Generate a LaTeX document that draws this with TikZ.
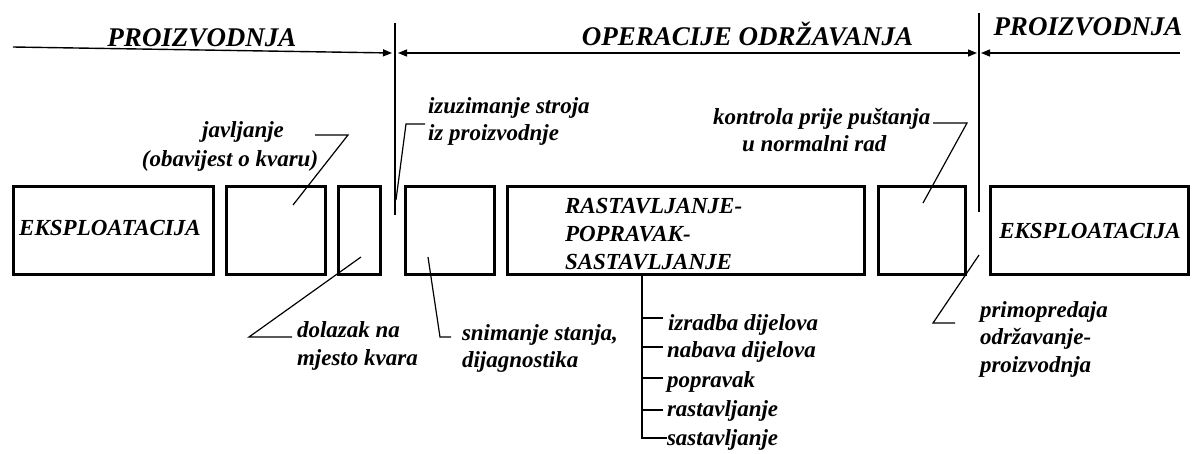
\documentclass[tikz,border=0pt]{standalone}
\usepackage{fontspec}
\setmainfont{Liberation Serif}
\usetikzlibrary{arrows.meta}
\begin{document}
\begin{tikzpicture}[x=1pt,y=-1pt,
  txt/.style={inner sep=0pt, outer sep=0pt, font=\fontsize{23}{28}\selectfont\bfseries\itshape},
  head/.style={inner sep=0pt, outer sep=0pt, font=\fontsize{27}{32}\selectfont\bfseries\itshape},
  box/.style={draw, line width=3pt, inner sep=0pt, outer sep=0pt, minimum height=88pt},
  lead/.style={line width=1.2pt},
  hline/.style={line width=1.4pt},
  tipr/.style={-{Triangle[length=9pt,width=7pt]}},
  tipl/.style={{Triangle[length=9pt,width=7pt]}-},
  tipb/.style={{Triangle[length=9pt,width=7pt]}-{Triangle[length=9pt,width=7pt]}}
]
\useasboundingbox (0,0) rectangle (1192,453);

% headings
\node[head, anchor=base] (h1) at (202,46) {PROIZVODNJA};
\node[head, anchor=base] (h2) at (747.5,45) {OPERACIJE ODRŽAVANJA};
\node[head, anchor=base] (h3) at (1088,35) {PROIZVODNJA};

% time lines
\coordinate (l1a) at (13,47);  \coordinate (l1b) at (392,53);
\coordinate (l2a) at (398,53); \coordinate (l2b) at (977,53);
\coordinate (l3a) at (981,53); \coordinate (l3b) at (1180,53);
\draw[hline,tipr] (l1a) -- (l1b);
\draw[hline,tipb] (l2a) -- (l2b);
\draw[hline,tipl] (l3a) -- (l3b);

% dividers
\coordinate (d1t) at (395,23);  \coordinate (d1b) at (395,215);
\coordinate (d2t) at (979,13);  \coordinate (d2b) at (979,212);
\draw[hline] (d1t) -- (d1b);
\draw[hline] (d2t) -- (d2b);

% boxes
\node[box, minimum width=200pt] (b1) at (113.5,230.5) {};
\node[box, minimum width=99pt]  (b2) at (276,230.5) {};
\node[box, minimum width=42pt]  (b3) at (359.5,230.5) {};
\node[box, minimum width=89pt]  (b4) at (450,230.5) {};
\node[box, minimum width=357pt] (b5) at (686,230.5) {};
\node[box, minimum width=87pt]  (b6) at (922,230.5) {};
\node[box, minimum width=198pt] (b7) at (1089.5,230.5) {};

\node[txt, anchor=base] (e1) at (110,235) {EKSPLOATACIJA};
\node[txt, anchor=base] (e7) at (1090,238) {EKSPLOATACIJA};
\node[txt, anchor=base west] (r1) at (565,213) {RASTAVLJANJE-};
\node[txt, anchor=base west] (r2) at (565,241) {POPRAVAK-};
\node[txt, anchor=base west] (r3) at (565,269) {SASTAVLJANJE};

% labels
\node[txt, anchor=base] (jav1) at (243,137) {javljanje};
\node[txt, anchor=base] (jav2) at (230,166) {(obavijest o kvaru)};
\node[txt, anchor=base west] (izu1) at (428,113) {izuzimanje stroja};
\node[txt, anchor=base west] (izu2) at (428,140) {iz proizvodnje};
\node[txt, anchor=base west] (kon1) at (713,124) {kontrola prije puštanja};
\node[txt, anchor=base west] (kon2) at (742,151) {u normalni rad};
\node[txt, anchor=base west] (dol1) at (297,337) {dolazak na};
\node[txt, anchor=base west] (dol2) at (297,365) {mjesto kvara};
\node[txt, anchor=base west] (sni1) at (462,340) {snimanje stanja,};
\node[txt, anchor=base west] (sni2) at (462,367) {dijagnostika};
\node[txt, anchor=base west] (pri1) at (980,317) {primopredaja};
\node[txt, anchor=base west] (pri2) at (980,344) {održavanje-};
\node[txt, anchor=base west] (pri3) at (980,372) {proizvodnja};
\node[txt, anchor=base west] (s1) at (668,330) {izradba dijelova};
\node[txt, anchor=base west] (s2) at (667,357) {nabava dijelova};
\node[txt, anchor=base west] (s3) at (667,387) {popravak};
\node[txt, anchor=base west] (s4) at (667,416) {rastavljanje};
\node[txt, anchor=base west] (s5) at (667,445) {sastavljanje};

% leaders
\coordinate (javA) at (315,135); \coordinate (javB) at (348,135); \coordinate (javC) at (293,205);
\draw[lead] (javA) -- (javB) -- (javC);
\coordinate (dolA) at (361,257); \coordinate (dolB) at (249,337); \coordinate (dolC) at (292,337);
\draw[lead] (dolA) -- (dolB) -- (dolC);
\coordinate (izuA) at (425,124); \coordinate (izuB) at (406,124); \coordinate (izuC) at (396,200);
\draw[lead] (izuA) -- (izuB) -- (izuC);
\coordinate (sniA) at (428,257); \coordinate (sniB) at (440,337); \coordinate (sniC) at (451,337);
\draw[lead] (sniA) -- (sniB) -- (sniC);
\coordinate (konA) at (933,123); \coordinate (konB) at (967,123); \coordinate (konC) at (923,203);
\draw[lead] (konA) -- (konB) -- (konC);
\coordinate (priA) at (979,255); \coordinate (priB) at (933,323); \coordinate (priC) at (955,323);
\draw[lead] (priA) -- (priB) -- (priC);

% stem with ticks
\coordinate (st0) at (b5.south -| 642,0);
\coordinate (st5) at (642,438);
\draw[lead] (st0) -- (st5) -- (s5.west |- st5);
\foreach \y/\n in {318/1,347/2,378/3,410/4}{
  \draw[lead] (642,\y) -- (663,\y);
}
\end{tikzpicture}
\end{document}
